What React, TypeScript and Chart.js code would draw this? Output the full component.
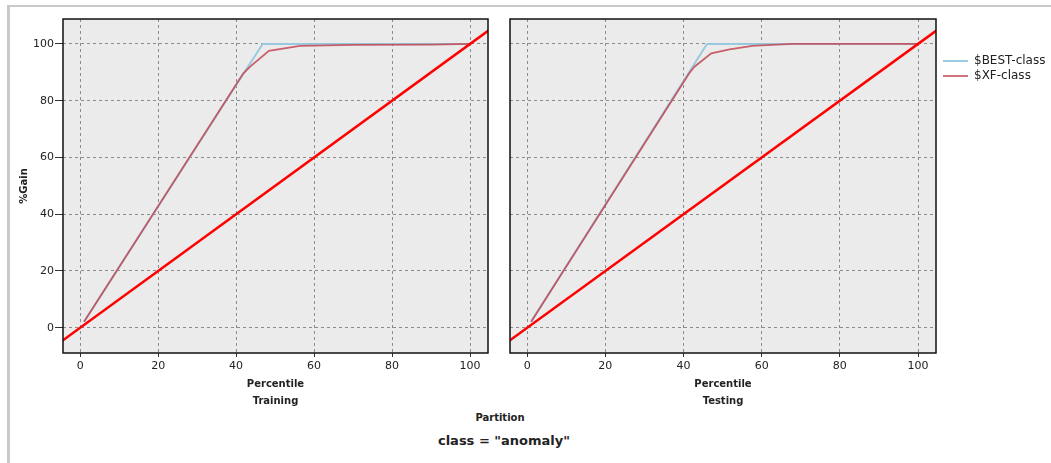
import React, { useEffect, useRef } from 'react';
import { Chart, registerables } from 'chart.js';

Chart.register(...registerables);

// ---- data ----
const xTickValues = [0, 20, 40, 60, 80, 100];
const yTickValues = [0, 20, 40, 60, 80, 100];

const trainBestPct = [1, 46.8, 100];
const trainBestGain = [2.1, 100, 100];
const trainXfPct = [1, 41.8, 43.6, 48.4, 56.4, 60.2, 70, 90, 100];
const trainXfGain = [2.1, 89.6, 92.0, 97.6, 99.3, 99.4, 99.7, 99.8, 100];

const testBestPct = [1, 46.0, 100];
const testBestGain = [2.1, 100, 100];
const testXfPct = [1, 41.5, 42.8, 47.1, 51.8, 57.6, 60, 68, 100];
const testXfGain = [2.1, 89.8, 92.0, 96.7, 98.1, 99.3, 99.5, 100, 100];

const baselinePct = [-10, 110];
const baselineGain = [-10, 110];

const seriesNames = ['$BEST-class', '$XF-class', 'baseline'];
const partitionNames = ['Training', 'Testing'];

// ---- style ----
const FONT = '"DejaVu Sans", sans-serif';
const GRID = '#8c8c8c';
const TEXT = '#222222';
const BEST_COLOR = 'rgba(150,200,222,0.95)';
const XF_COLOR = 'rgba(195,70,82,0.85)';
const BASE_COLOR = '#ff0000';

const zip = (xs: number[], ys: number[]) => xs.map((x, i) => ({ x, y: ys[i] }));

const panelPlugin = {
  id: 'panelBox',
  beforeDraw(chart: any) {
    const { ctx, chartArea: a } = chart;
    ctx.save();
    ctx.fillStyle = '#ebebeb';
    ctx.fillRect(a.left, a.top, a.right - a.left, a.bottom - a.top);
    ctx.restore();
  },
  afterDraw(chart: any) {
    const { ctx, chartArea: a } = chart;
    ctx.save();
    ctx.strokeStyle = '#111';
    ctx.lineWidth = 1.5;
    ctx.strokeRect(a.left, a.top, a.right - a.left, a.bottom - a.top);
    ctx.restore();
  },
};

function buildConfig(kind: 'train' | 'test'): any {
  const isTrain = kind === 'train';
  const bestPct = isTrain ? trainBestPct : testBestPct;
  const bestGain = isTrain ? trainBestGain : testBestGain;
  const xfPct = isTrain ? trainXfPct : testXfPct;
  const xfGain = isTrain ? trainXfGain : testXfGain;

  const datasets = [
    {
      label: seriesNames[0],
      data: zip(bestPct, bestGain),
      borderColor: BEST_COLOR,
      backgroundColor: BEST_COLOR,
      borderWidth: 2,
      pointRadius: 0,
      tension: 0,
      order: 2,
      clip: 0,
    },
    {
      label: seriesNames[1],
      data: zip(xfPct, xfGain),
      borderColor: XF_COLOR,
      backgroundColor: XF_COLOR,
      borderWidth: 1.8,
      pointRadius: 0,
      tension: 0,
      order: 1,
      clip: 0,
    },
    {
      label: seriesNames[2],
      data: zip(baselinePct, baselineGain),
      borderColor: BASE_COLOR,
      backgroundColor: BASE_COLOR,
      borderWidth: 2.5,
      pointRadius: 0,
      tension: 0,
      order: 0,
      clip: 0,
    },
  ];

  const scales: any = {
    x: {
      type: 'linear',
      min: -4.4,
      max: 104.6,
      afterBuildTicks: (s: any) => {
        s.ticks = xTickValues.map((v) => ({ value: v }));
      },
      afterFit: (s: any) => {
        s.height = 59;
      },
      grid: {
        color: GRID,
        lineWidth: 1,
        drawTicks: true,
        tickLength: 4,
        tickColor: '#333',
        tickWidth: 1,
      },
      border: { display: false, dash: [3, 3] },
      ticks: {
        font: { family: FONT, size: 11 },
        color: TEXT,
        padding: 3,
        autoSkip: false,
        maxRotation: 0,
      },
      title: {
        display: true,
        text: ['Percentile', isTrain ? partitionNames[0] : partitionNames[1]],
        font: { family: FONT, size: 10, weight: 'bold', lineHeight: 1.7 },
        color: TEXT,
        padding: { top: 0, bottom: 2.5 },
      },
    },
    y: {
      type: 'linear',
      min: -8.9,
      max: 108.8,
      afterBuildTicks: (s: any) => {
        s.ticks = yTickValues.map((v) => ({ value: v }));
      },
      afterFit: (s: any) => {
        s.width = isTrain ? 63 : 10;
      },
      grid: {
        color: GRID,
        lineWidth: 1,
        drawTicks: isTrain,
        tickLength: 8,
        tickColor: '#333',
        tickWidth: 1,
      },
      border: { display: false, dash: [3, 3] },
      ticks: {
        display: isTrain,
        font: { family: FONT, size: 11 },
        color: TEXT,
        padding: 1,
      },
      title: {
        display: isTrain,
        text: '%Gain',
        font: { family: FONT, size: 10, weight: 'bold', lineHeight: 1.2 },
        color: TEXT,
        padding: { top: 18, bottom: 0 },
      },
    },
  };

  if (!isTrain) {
    scales.gap = {
      type: 'linear',
      position: 'right',
      display: true,
      grid: { display: false, drawTicks: false },
      border: { display: false },
      ticks: { display: false },
      afterFit: (s: any) => {
        s.width = 4;
      },
    };
  }

  return {
    type: 'line',
    data: { datasets },
    plugins: [panelPlugin],
    options: {
      responsive: false,
      animation: false,
      events: [],
      parsing: true,
      layout: {
        padding: isTrain
          ? { top: 19, left: 0, right: 12, bottom: 0 }
          : { top: 19, left: 0, right: 16, bottom: 0 },
      },
      scales,
      plugins: {
        tooltip: { enabled: false },
        title: { display: false },
        legend: {
          display: !isTrain,
          position: 'right',
          align: 'start',
          maxWidth: 114,
          title: {
            display: true,
            text: '',
            font: { family: FONT, size: 10, lineHeight: 1.2 },
            padding: { top: 21, bottom: 0 },
          },
          labels: {
            font: { family: FONT, size: 12 },
            color: TEXT,
            padding: 3,
            usePointStyle: true,
            pointStyle: 'line',
            pointStyleWidth: 25,
            filter: (item: any) => item.text !== seriesNames[2],
            sort: (a: any, b: any) => a.datasetIndex - b.datasetIndex,
          },
        },
      },
    },
  };
}

function Panel({ kind, left, width }: { kind: 'train' | 'test'; left: number; width: number }) {
  const ref = useRef<HTMLCanvasElement | null>(null);
  useEffect(() => {
    if (!ref.current) return;
    const chart = new Chart(ref.current, buildConfig(kind));
    return () => chart.destroy();
  }, [kind]);
  return (
    <canvas
      ref={ref}
      width={width}
      height={412}
      style={{ position: 'absolute', left, top: 0, width, height: 412, display: 'block' }}
    />
  );
}

export default function App() {
  return (
    <div
      style={{
        position: 'fixed',
        left: 0,
        top: 0,
        width: 1051,
        height: 463,
        overflow: 'hidden',
        background: '#ffffff',
        fontFamily: FONT,
      }}
    >
      <div
        style={{
          position: 'absolute',
          left: 7,
          top: 5,
          width: 2000,
          height: 1000,
          borderLeft: '3px solid #c9c9c9',
          borderTop: '2px solid #c9c9c9',
        }}
      />
      <Panel kind="train" left={0} width={500} />
      <Panel kind="test" left={500} width={570} />
      <div
        style={{
          position: 'absolute',
          left: 500,
          top: 418,
          transform: 'translate(-50%, -50%)',
          fontSize: 10,
          fontWeight: 'bold',
          color: TEXT,
          whiteSpace: 'nowrap',
          lineHeight: '12px',
        }}
      >
        Partition
      </div>
      <div
        style={{
          position: 'absolute',
          left: 504,
          top: 441,
          transform: 'translate(-50%, -50%)',
          fontSize: 13,
          fontWeight: 'bold',
          color: TEXT,
          whiteSpace: 'nowrap',
          lineHeight: '16px',
        }}
      >
        class = "anomaly"
      </div>
    </div>
  );
}
